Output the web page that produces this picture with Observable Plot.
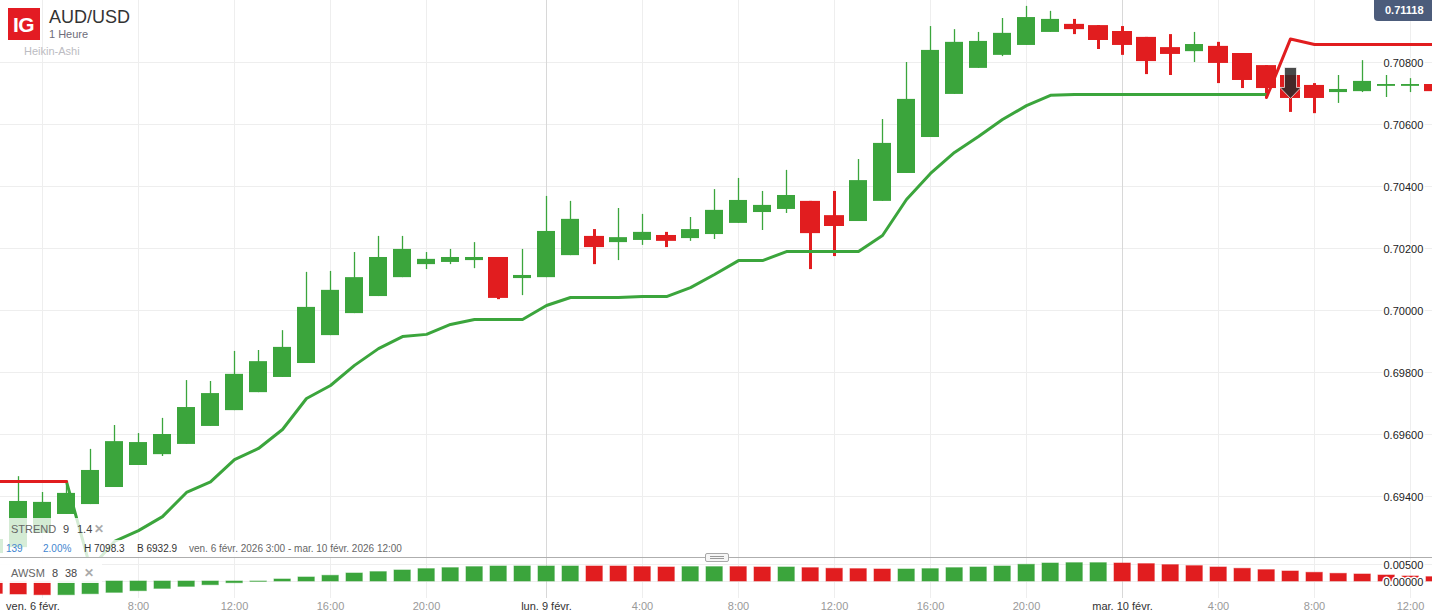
<!DOCTYPE html>
<html lang="fr">
<head>
<meta charset="utf-8">
<title>AUD/USD</title>
<script src="https://cdn.jsdelivr.net/npm/d3@7"></script>
<script src="https://cdn.jsdelivr.net/npm/@observablehq/plot@0.6"></script>
<style>
html,body{margin:0;padding:0;background:#fff;}
#chart{position:relative;width:1432px;height:616px;overflow:hidden;font-family:"Liberation Sans",Arial,sans-serif;}
#chart svg{position:absolute;left:0;}
.t{position:absolute;white-space:nowrap;line-height:1;}
.o{position:absolute;}
</style>
</head>
<body>
<div id="chart"></div>
<script>
// Heikin-Ashi candles, one per hour; the first one starts one hour before the 3:00 opening bar.
const firstBar = -1;
const opens = [.69216,.69235,.69281,.69342,.69374,.69429,.69500,.69535,.69568,.69626,.69677,.69735,.69784,.69829,.69919,.69990,.70045,.70106,.70148,.70155,.70161,.70171,.70103,.70106,.70177,.70239,.70219,.70226,.70242,.70232,.70245,.70281,.70316,.70326,.70352,.70306,.70287,.70352,.70442,.70558,.70697,.70781,.70823,.70855,.70897,.70923,.70919,.70900,.70881,.70848,.70835,.70852,.70829,.70790,.70758,.70726,.70703,.70706,.70723,.70723,.70729];
const closes = [.69261,.69384,.69381,.69410,.69484,.69577,.69574,.69600,.69687,.69732,.69794,.69835,.69881,.70010,.70065,.70106,.70171,.70197,.70165,.70171,.70171,.70039,.70113,.70255,.70294,.70203,.70235,.70252,.70223,.70261,.70323,.70355,.70339,.70371,.70248,.70271,.70419,.70539,.70681,.70839,.70865,.70868,.70894,.70945,.70939,.70906,.70871,.70855,.70803,.70826,.70858,.70797,.70742,.70716,.70684,.70684,.70713,.70739,.70729,.70729,.70706];
const highs = [.69261,.69464,.69413,.69439,.69552,.69629,.69603,.69652,.69774,.69771,.69868,.69871,.69935,.70123,.70126,.70187,.70239,.70239,.70187,.70197,.70219,.70171,.70197,.70368,.70352,.70261,.70329,.70310,.70252,.70300,.70390,.70426,.70384,.70452,.70352,.70384,.70487,.70616,.70800,.70916,.70906,.70897,.70942,.70981,.70965,.70939,.70919,.70916,.70881,.70890,.70897,.70865,.70829,.70790,.70758,.70732,.70758,.70806,.70758,.70748,.70729];
const lows = [.69216,.69235,.69281,.69342,.69374,.69429,.69500,.69529,.69568,.69626,.69677,.69735,.69784,.69829,.69919,.69990,.70045,.70106,.70132,.70148,.70135,.70035,.70048,.70106,.70177,.70148,.70161,.70210,.70203,.70223,.70229,.70281,.70258,.70313,.70132,.70174,.70287,.70352,.70442,.70558,.70697,.70781,.70819,.70855,.70897,.70890,.70842,.70823,.70761,.70758,.70800,.70732,.70716,.70684,.70639,.70635,.70668,.70703,.70687,.70703,.70706];

// Supertrend, bullish leg (bars 2 to 52) and the two bearish legs.
const strendUpStart = 2;
const strendUp = [.69448,.69168,.69255,.69290,.69335,.69413,.69447,.69519,.69555,.69616,.69716,.69758,.69823,.69877,.69916,.69923,.69955,.69971,.69971,.69971,.70016,.70042,.70042,.70042,.70045,.70045,.70074,.70116,.70161,.70161,.70190,.70190,.70190,.70190,.70242,.70358,.70442,.70510,.70561,.70616,.70661,.70694,.70697,.70697,.70697,.70697,.70697,.70697,.70697,.70697,.70697];
const strendDownEarlyStart = -1;
const strendDownEarly = [.69448,.69448,.69448,.69448];
const strendDownLateStart = 52;
const strendDownLate = [.70687,.70876,.70858,.70858,.70858,.70858,.70858,.70858];

// AWSM oscillator, same bars as the candles; colour flag per bar.
const awsm = [-.00363,-.00382,-.00402,-.00402,-.00373,-.00333,-.00284,-.00216,-.00157,-.00108,-.00049,-.0001,.00059,.00118,.00167,.00235,.00275,.00324,.00363,.00392,.00422,.00441,.00441,.00441,.00441,.00441,.00441,.00422,.00412,.00422,.00422,.00422,.00412,.00412,.00392,.00373,.00363,.00353,.00353,.00363,.00392,.00412,.00441,.00490,.00529,.00539,.00539,.00529,.00510,.00480,.00451,.00412,.00373,.00333,.00294,.00255,.00225,.00206,.00176,.00147,.00127];
const awsmRedBars = [-1,0,1,24,25,26,27,30,31,33,34,35,36,46,47,48,49,50,51,52,53,54,55,56,57,58,59];

// Sell signal.
const signalBars = [53];
const signalPrices = [.70684];

// Scales and ticks.
const priceTicks = [.694,.696,.698,.700,.702,.704,.706,.708];
const awsmTicks = [0,.005];
const hourTicks = [5,9,13,17,26,30,34,38,42,50,54,58];
const hourLabels = ["8:00","12:00","16:00","20:00","4:00","8:00","12:00","16:00","20:00","4:00","8:00","12:00"];
const dateTicks = [22,46];
const dateLabels = ["lun. 9 févr.","mar. 10 févr."];
const firstTick = [1];
const firstLabel = "ven. 6 févr.";
const gridTicks = [1,5,9,13,17,26,30,34,38,42,50,54,58];

const GREEN = "#3ba53c", RED = "#e11d1f", GRID = "#eeeeee", DATEGRID = "#d8d8d8";
const FONT = '"Liberation Sans", Arial, sans-serif';

const candles = opens.map((o,k)=>({i:k+firstBar,o,c:closes[k],h:highs[k],l:lows[k],up:closes[k]>=o}));
const green = candles.filter(d=>d.up), red = candles.filter(d=>!d.up);
const upLine = strendUp.map((v,k)=>({i:k+strendUpStart,v}));
const downEarly = strendDownEarly.map((v,k)=>({i:k+strendDownEarlyStart,v}));
const downLate = strendDownLate.map((v,k)=>({i:k+strendDownLateStart,v}));
const osc = awsm.map((v,k)=>({i:k+firstBar,v,red:awsmRedBars.includes(k+firstBar)}));

const xScale = {domain:[0,59],range:[18,18+24*59]};
const hw = px => px/24;

const signalSymbol = {draw(c){
  c.moveTo(-6,-31);c.lineTo(6,-31);c.lineTo(6,-11);c.lineTo(10.5,-11);c.lineTo(0,0);c.lineTo(-10.5,-11);c.lineTo(-6,-11);c.closePath();
}};

const mainPlot = Plot.plot({
  width:1432,height:558,margin:0,
  style:{background:"transparent",fontFamily:FONT,fontSize:"11px"},
  x:{...xScale,axis:null},
  y:{domain:[.71,.692],range:[0,558],axis:null},
  marks:[
    Plot.ruleY(priceTicks,{stroke:GRID}),
    Plot.ruleX(gridTicks,{stroke:GRID}),
    Plot.ruleX(dateTicks,{stroke:DATEGRID}),
    Plot.ruleX(green,{x:"i",y1:"l",y2:"h",stroke:GREEN,strokeWidth:1.3}),
    Plot.ruleX(red,{x:"i",y1:"l",y2:"h",stroke:RED,strokeWidth:3}),
    Plot.rect(green,{x1:d=>d.i-hw(9),x2:d=>d.i+hw(9),y1:"o",y2:"c",fill:GREEN}),
    Plot.rect(red,{x1:d=>d.i-hw(10),x2:d=>d.i+hw(10),y1:"o",y2:"c",fill:RED}),
    Plot.line(upLine,{x:"i",y:"v",stroke:GREEN,strokeWidth:3}),
    Plot.line(downEarly,{x:"i",y:"v",stroke:RED,strokeWidth:3}),
    Plot.line(downLate,{x:"i",y:"v",stroke:RED,strokeWidth:3}),
    Plot.dot(signalBars,{x:d=>d,y:(d,k)=>signalPrices[k],r:5,symbol:signalSymbol,fill:"#2a2a2a",fillOpacity:.85,stroke:"#fff",strokeOpacity:.7,strokeWidth:1}),
    Plot.axisY(priceTicks,{anchor:"right",tickSize:0,tickPadding:0,dx:-49,dy:1,textAnchor:"start",tickFormat:d=>d.toFixed(5),fill:"#222",textStroke:"#fff",textStrokeWidth:3,label:null})
  ]
});
mainPlot.style.top="0";

const tickText = d => hourLabels[hourTicks.indexOf(d)];
const dateText = d => dateLabels[dateTicks.indexOf(d)];
const oscPlot = Plot.plot({
  width:1432,height:59,marginTop:0,marginRight:0,marginLeft:0,marginBottom:18,
  style:{background:"#fff",fontFamily:FONT,fontSize:"11px"},
  x:{...xScale,axis:null},
  y:{domain:[0,.005],range:[24,7],axis:null},
  marks:[
    Plot.ruleY(awsmTicks,{stroke:GRID}),
    Plot.gridX({ticks:gridTicks,stroke:GRID,strokeOpacity:1}),
    Plot.gridX({ticks:dateTicks,stroke:DATEGRID,strokeOpacity:1}),
    Plot.rect(osc,{x1:d=>d.i-hw(8),x2:d=>d.i+hw(8.3),y1:0,y2:"v",fill:d=>d.red?RED:GREEN,stroke:d=>d.red?RED:GREEN,strokeOpacity:.55,strokeWidth:1}),
    Plot.axisX({ticks:hourTicks,anchor:"bottom",tickSize:0,tickPadding:4,tickFormat:tickText,fill:"#999",label:null}),
    Plot.axisX({ticks:dateTicks,anchor:"bottom",tickSize:0,tickPadding:4,tickFormat:dateText,fill:"#333",label:null}),
    Plot.axisX({ticks:firstTick,anchor:"bottom",tickSize:0,tickPadding:4,tickFormat:()=>firstLabel,fill:"#333",dx:-9.5,label:null}),
    Plot.axisY(awsmTicks,{anchor:"right",tickSize:0,tickPadding:0,dx:-49,dy:1,textAnchor:"start",tickFormat:d=>d.toFixed(5),fill:"#222",textStroke:"#fff",textStrokeWidth:3,label:null})
  ]
});
oscPlot.style.top="557px";

const root = document.getElementById("chart");
root.append(mainPlot,oscPlot);

function box(l,t,w,h,css){const e=document.createElement("div");e.className="o";e.style.cssText=`left:${l}px;top:${t}px;width:${w}px;height:${h}px;${css||""}`;root.append(e);return e;}
function txt(s,l,cy,size,color,css){const e=document.createElement("div");e.className="t";e.textContent=s;e.style.cssText=`left:${l}px;top:${cy-size/2-0.5}px;font-size:${size}px;color:${color};${css||""}`;root.append(e);return e;}

// translucent legend panels
box(0,518,106,22,"background:rgba(255,255,255,.78)");
box(0,540,410,17,"background:rgba(255,255,255,.8)");
box(0,558,102,25,"background:rgba(255,255,255,.93)");

// divider + handle
box(0,557,1432,1,"background:#aeaeae");
const h=box(705,553,22,7,"background:#f6f6f6;border:1px solid #a8a8a8;border-radius:2px");
box(710,556,14,1,"background:#999");box(710,558,14,1,"background:#999");

// header
box(8,8,32,32,"background:#e31b23");
txt("IG",13,24.5,21,"#fff","font-weight:700;letter-spacing:-.5px");
txt("AUD/USD",49,17.5,18,"#333");
txt("1 Heure",49,35,11,"#6d6d7a");
txt("Heikin-Ashi",24,52,11,"#bcbcc2");

// price badge
box(1374,0,58,20.5,"background:#4c5c7b;border-radius:0 0 0 4px");
txt("0.71118",1385,11,11,"#fff","font-weight:700");

// legends
txt("STREND",11,530,11,"#666");
txt("9",63,530,11,"#444");
txt("1.4",77,530,11,"#444");
txt("✕",94,529.5,12,"#aaa","font-weight:700");
txt("139",6,549.5,10,"#3f86d0");
txt("2.00%",43,549.5,10,"#3f86d0");
txt("H 7098.3",84,549.5,10,"#333");
txt("B 6932.9",137,549.5,10,"#333");
txt("ven. 6 févr. 2026 3:00 - mar. 10 févr. 2026 12:00",189,549.5,10,"#666");
txt("AWSM",11,574,11,"#666");
txt("8",52,574,11,"#444");
txt("38",65,574,11,"#444");
txt("✕",84,573.5,12,"#aaa","font-weight:700");
</script>
</body>
</html>
